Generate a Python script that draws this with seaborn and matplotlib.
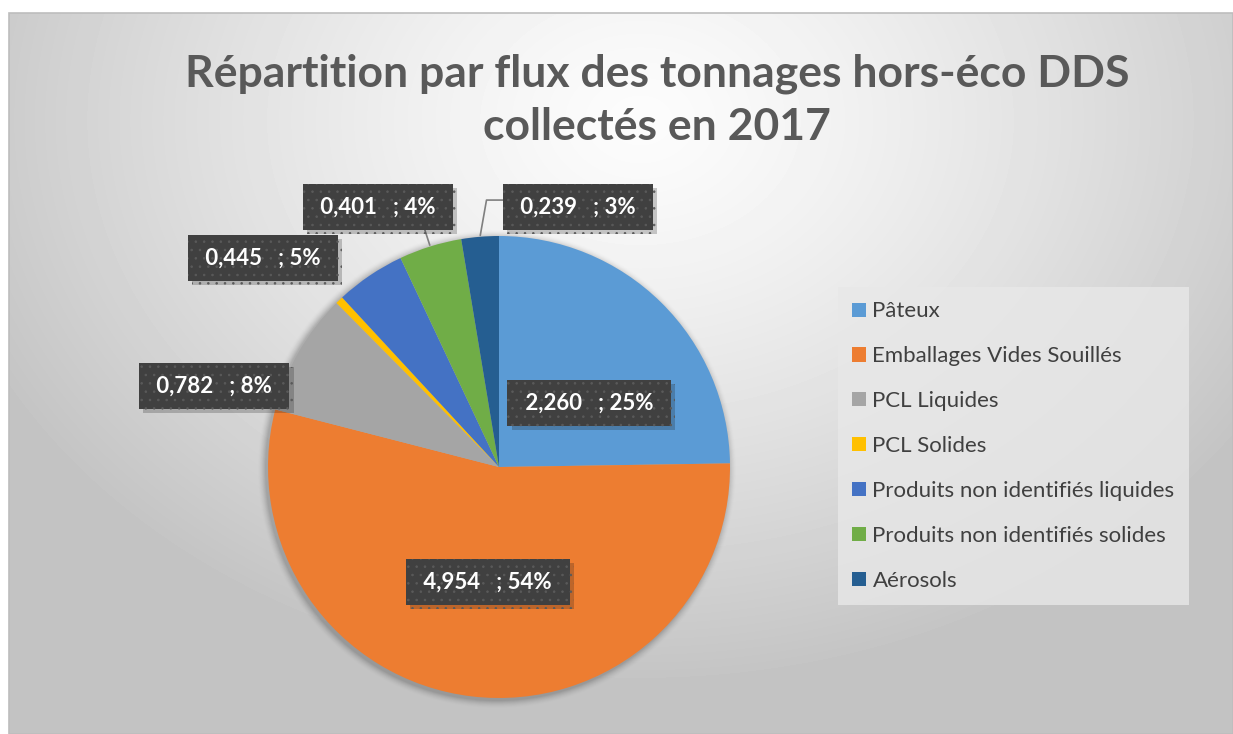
import numpy as np
import matplotlib.pyplot as plt
import matplotlib.patheffects as pe
from matplotlib.patches import Patch, Rectangle, Circle
import seaborn as sns

# -------- Data --------
categories = ["Pâteux", "Emballages Vides Souillés", "PCL Liquides", "PCL Solides",
              "Produits non identifiés liquides", "Produits non identifiés solides", "Aérosols"]
tonnages = [2.260, 4.954, 0.782, 0.050, 0.445, 0.401, 0.239]
percents = [25, 54, 8, 1, 5, 4, 3]
show_label = [True, True, True, False, True, True, True]
hex_colors = ["#5B9BD5", "#ED7D31", "#A5A5A5", "#FFC000", "#4472C4", "#70AD47", "#255E91"]
title = "Répartition par flux des tonnages hors-éco DDS\ncollectés en 2017"

# -------- Layout (pixels, y measured from top) --------
W, H = 1233, 734
pie_center = (499, 467)
pie_radius = 231
label_xy = [(589, 403), (488, 582), (214, 386), None, (263, 258), (378, 207), (578, 207)]
leader = [False, False, False, False, False, True, True]

sns.set_theme(style="white")
plt.rcParams["font.family"] = ["Lato", "DejaVu Sans"]
plt.rcParams["hatch.linewidth"] = 0.6

colors = sns.color_palette(hex_colors)

fig = plt.figure(figsize=(W / 100, H / 100), dpi=100)
fig.patch.set_facecolor("white")
ax = fig.add_axes([0, 0, 1, 1])

# background gradient (chart area)
x0, y0 = 9, 13
gx, gy = np.meshgrid(np.arange(x0, W), np.arange(y0, H))
d = np.sqrt(((gx - 640) / 900.0) ** 2 + ((gy - 120) / 700.0) ** 2)
gray = np.clip(252 - 75 * d ** 1.3, 195, 252) / 255.0
ax.imshow(gray, cmap="gray", vmin=0, vmax=1, extent=(x0, W, 0, H - y0),
          origin="upper", zorder=0, interpolation="bilinear")
ax.add_patch(Rectangle((x0, 0), W - x0, H - y0, fill=False, edgecolor="#bdbdbd", lw=1.2, zorder=1))

cx, cy = pie_center[0], H - pie_center[1]

# soft shadow round the pie
for k in range(8):
    ax.add_patch(Circle((cx - 2, cy - 2), pie_radius + 8 - k, color="#000000",
                        alpha=0.012 * (k + 1) / 2, lw=0, zorder=2))

wedges, _ = ax.pie(tonnages, colors=colors, startangle=90, counterclock=False,
                   center=(cx, cy), radius=pie_radius,
                   wedgeprops=dict(linewidth=0))
for w in wedges:
    w.set_zorder(3)

# -------- Data labels --------
for i, w in enumerate(wedges):
    if not show_label[i]:
        continue
    txt = " " + f"{tonnages[i]:.3f}".replace(".", ",") + "   ; " + f"{percents[i]}% "
    tx, ty = label_xy[i][0], H - label_xy[i][1]
    mid = np.deg2rad((w.theta1 + w.theta2) / 2)
    px, py = cx + pie_radius * np.cos(mid), cy + pie_radius * np.sin(mid)
    arrow = None
    if leader[i]:
        if i == 5:
            arrow = dict(arrowstyle="-", color="#7f7f7f", lw=1.2, relpos=(0.84, 0.0),
                         shrinkA=0, shrinkB=1)
        else:
            arrow = dict(arrowstyle="-", color="#7f7f7f", lw=1.2, relpos=(0.0, 0.83),
                         connectionstyle="angle,angleA=0,angleB=80,rad=0",
                         shrinkA=0, shrinkB=1)
    t = ax.annotate(txt, xy=(px, py), xytext=(tx, ty), ha="center", va="center",
                    fontsize=16, fontweight="bold", color="white", zorder=6,
                    bbox=dict(boxstyle="square,pad=0.55", facecolor="#404040",
                              edgecolor="#5a5a5a", linewidth=0, hatch=".."),
                    arrowprops=arrow)
    t.get_bbox_patch().set_path_effects([pe.SimplePatchShadow(offset=(3, -3), alpha=0.22),
                                         pe.Normal()])

# -------- Title --------
ax.text(657, H - 100, title, ha="center", va="center", fontsize=32, fontweight="bold",
        color="#595959", linespacing=1.4, zorder=6)

# -------- Legend --------
handles = [Patch(facecolor=c, edgecolor="none") for c in colors]
leg = ax.legend(handles, categories, loc="upper left",
                bbox_to_anchor=(838 / W, 1 - 287 / H), bbox_transform=fig.transFigure,
                fontsize=16, frameon=True, fancybox=False, borderpad=0.65,
                labelspacing=1.12, handlelength=0.6, handleheight=0.6,
                handletextpad=0.3, borderaxespad=0)
leg.get_frame().set_facecolor("#e8e8e8")
leg.get_frame().set_edgecolor("none")
leg.get_frame().set_alpha(0.8)
for text in leg.get_texts():
    text.set_color("#404040")
leg.set_zorder(6)

ax.set_xlim(0, W)
ax.set_ylim(0, H)
ax.set_aspect("equal")
ax.axis("off")

fig.savefig("out.png", dpi=100, facecolor=fig.get_facecolor())
